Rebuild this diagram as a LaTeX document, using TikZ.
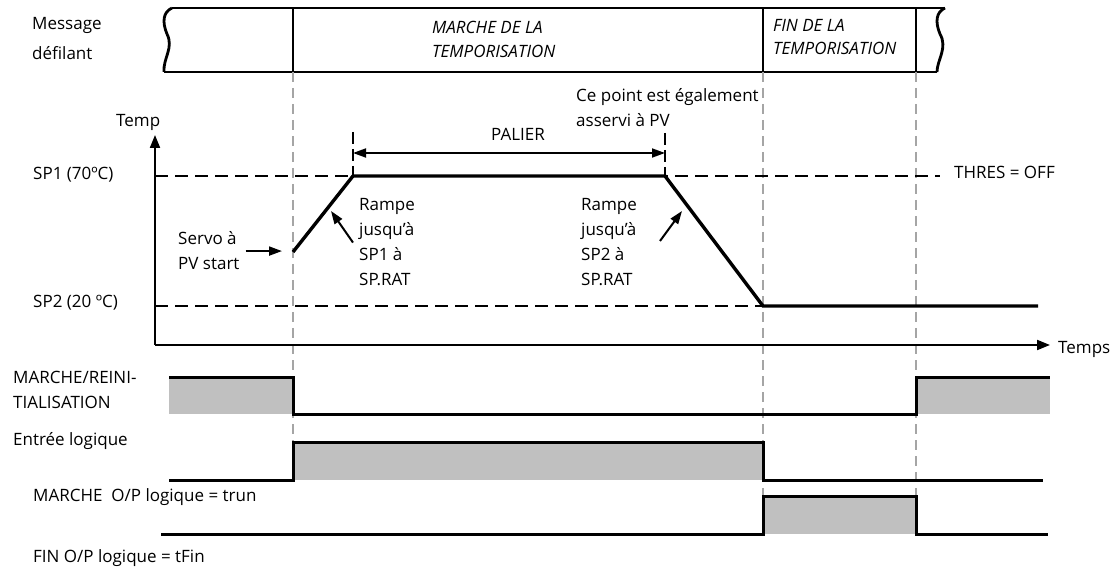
\documentclass[tikz,border=0pt]{standalone}
\usepackage{fontspec}
\setmainfont{Open Sans}
\usepackage{tikz}
\usetikzlibrary{arrows.meta, positioning, calc}
\usepackage{xcolor}
\definecolor{guide}{RGB}{165,165,165}
\definecolor{sigfill}{RGB}{192,192,192}

\tikzset{
  lbl/.style={anchor=base west, inner sep=0pt, align=left, font=\fontsize{17}{25}\selectfont},
  band/.style={line width=2.8pt},
  guideline/.style={guide, line width=1.8pt, dash pattern=on 10pt off 6pt},
  spline/.style={line width=1.8pt, dash pattern=on 13pt off 7pt},
  palmark/.style={line width=1.8pt, dash pattern=on 12pt off 5pt},
  profile/.style={line width=3.4pt},
  axis/.style={line width=2pt, -{Triangle[length=13pt,width=10pt]}},
  pointer/.style={line width=2pt, -{Triangle[length=13pt,width=9pt]}},
  sig/.style={line width=3pt}
}

\begin{document}
\begin{tikzpicture}[x=1pt, y=-1pt]
  \useasboundingbox (0,0) rectangle (1114,569);

  % message band
  \node[lbl] (msg) at (32,60) {Message\\[5pt]défilant};
  \draw[band] (172,8) -- (945,8);
  \draw[band] (164,72) -- (937,72);
  \draw[band] (172,8) .. controls (163,12) and (162,22) .. (167,34) .. controls (174,48) and (163,58) .. (164,72);
  \draw[band] (945,8) .. controls (936,12) and (935,22) .. (940,34) .. controls (948,48) and (937,60) .. (937,72);
  \draw[band] (293,8) -- (293,72);
  \draw[band] (763,8) -- (763,72);
  \draw[band] (916,8) -- (916,72);
  \node[lbl, font=\fontsize{17}{24}\selectfont\itshape] (runmsg) at (432,58) {MARCHE DE LA\\TEMPORISATION};
  \node[lbl, font=\fontsize{17}{23}\selectfont\itshape] (endmsg) at (773,55) {FIN DE LA\\TEMPORISATION};

  % phase guides
  \draw[guideline] (293,72) -- (293,442);
  \draw[guideline] (763,72) -- (763,496);
  \draw[guideline] (916,72) -- (916,497);

  % axes
  \coordinate (orig) at (155,345);
  \coordinate (ytip) at (155,135);
  \coordinate (xtip) at (1050,345);
  \draw[axis] (orig) -- (ytip);
  \draw[axis] (orig) -- (xtip);
  \node[lbl] (ylab) at (116,127) {Temp};
  \node[lbl] (xlab) at (1058,353) {Temps};

  % setpoints
  \node[lbl] (sp1) at (33,180) {SP1 (70ºC)};
  \node[lbl] (sp2) at (33,308) {SP2 (20 ºC)};
  \node[lbl] (thres) at (954,179) {THRES = OFF};
  \draw[spline] (155,176) -- (940,176);
  \draw[spline] (155,306) -- (763,306);

  % profile
  \coordinate (pstart) at (293,252);
  \coordinate (pup) at (353,176);
  \coordinate (pdown) at (665,176);
  \coordinate (plow) at (763,306);
  \coordinate (pend) at (1038,306);
  \draw[profile] (pstart) -- (pup) -- (pdown) -- (plow) -- (pend);

  % dwell
  \draw[palmark] (353,132) -- (pup);
  \draw[palmark] (665,133) -- (pdown);
  \draw[line width=1.8pt, {Triangle[length=13pt,width=9pt]}-{Triangle[length=13pt,width=9pt]}] (353,153) -- (665,153);
  \node[lbl, anchor=base] (palier) at (518,141) {PALIER};
  \node[lbl] (servopt) at (576,127) {Ce point est également\\asservi à PV};

  % annotations
  \node[lbl] (servo) at (178,270) {Servo à\\PV start};
  \node[lbl] (ramp1) at (359,286) {Rampe\\jusqu’à\\SP1 à\\SP.RAT};
  \node[lbl] (ramp2) at (581,286) {Rampe\\jusqu’à\\SP2 à\\SP.RAT};
  \coordinate (sv) at ([xshift=-11pt]servo.east -| pstart);
  \draw[pointer] ([xshift=6pt]servo.east) -- (sv);
  \draw[pointer] ([xshift=-6pt]ramp1.west) -- (331,211);
  \draw[pointer] (660,241) -- (682,211);

  % logic signals
  \node[lbl] (rst) at (13,408) {MARCHE/REINI-\\TIALISATION};
  \fill[sigfill] (169,377) rectangle (293,414);
  \fill[sigfill] (916,377) rectangle (1050,414);
  \draw[sig] (169,377) -- (293,377) -- (293,414) -- (916,414) -- (916,377) -- (1050,377);

  \node[lbl] (din) at (13,445) {Entrée logique};
  \fill[sigfill] (293,442) rectangle (763,480);
  \draw[sig] (169,480) -- (293,480) -- (293,442) -- (763,442) -- (763,480) -- (1043,480);

  \node[lbl] (runop) at (33,501) {MARCHE\ \ O/P logique = trun};
  \fill[sigfill] (763,496) rectangle (916,534);
  \draw[sig] (161,534) -- (763,534) -- (763,496) -- (916,496) -- (916,534) -- (1048,534);
  \node[lbl] (endop) at (33,562) {FIN O/P logique = tFin};
\end{tikzpicture}
\end{document}
